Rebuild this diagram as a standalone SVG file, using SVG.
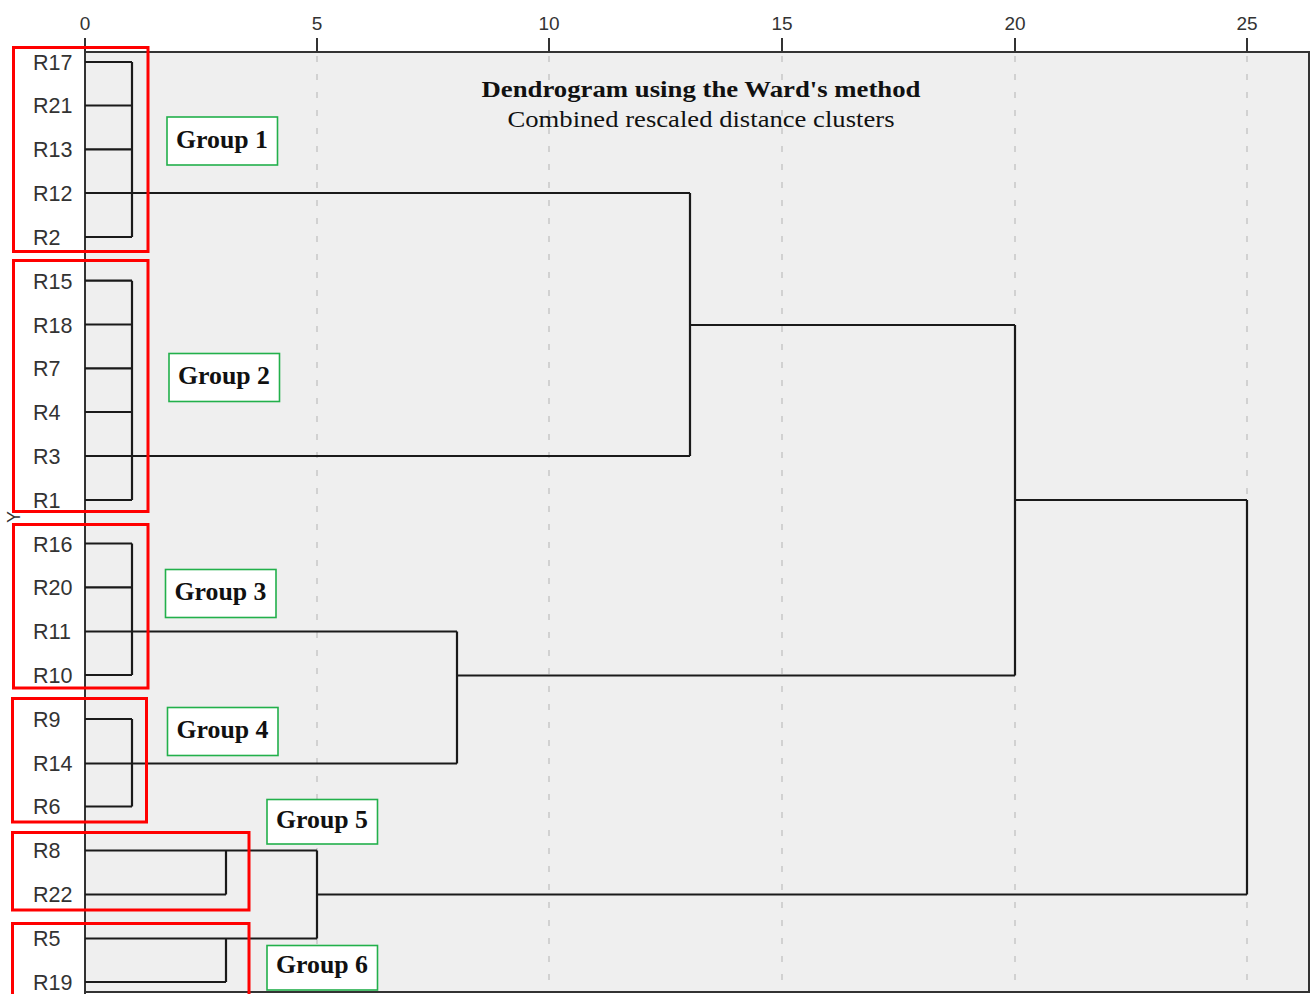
<svg xmlns="http://www.w3.org/2000/svg" width="1311" height="994" viewBox="0 0 1311 994">
<style>
.leaf{font-family:"Liberation Sans",Arial,sans-serif;font-size:21.5px;fill:#333}
.tick{font-family:"Liberation Sans",Arial,sans-serif;font-size:19px;fill:#333;text-anchor:middle}
.grp rect.gb{fill:#fff;stroke:#22b04b;stroke-width:1.6}
.grp text{font-family:"Liberation Serif","Times New Roman",serif;font-weight:bold;font-size:25px;fill:#111;text-anchor:middle}
.rb{fill:none;stroke:#ff0000;stroke-width:3}
.ln{fill:none;stroke:#1a1a1a;stroke-width:2.2}
.grid{stroke:#c8c8c8;stroke-width:1.5;stroke-dasharray:6 12}
</style>
<rect x="0" y="0" width="1311" height="994" fill="#fff"/>
<rect x="85" y="52" width="1224" height="940" fill="#efefef"/>
<g id="grid">
<line class="grid" x1="317" y1="56" x2="317" y2="992"/>
<line class="grid" x1="549" y1="56" x2="549" y2="992"/>
<line class="grid" x1="782" y1="56" x2="782" y2="992"/>
<line class="grid" x1="1015" y1="56" x2="1015" y2="992"/>
<line class="grid" x1="1247" y1="56" x2="1247" y2="992"/>
</g>
<g id="axis" stroke="#333" stroke-width="2" fill="none">
<path d="M85 52 H1309 V992 H85"/>
<path d="M85 38 V994"/>
<path d="M317 38 V52 M549 38 V52 M782 38 V52 M1015 38 V52 M1247 38 V52"/>
</g>
<g id="ticks">
<text class="tick" x="85" y="30">0</text>
<text class="tick" x="317" y="30">5</text>
<text class="tick" x="549" y="30">10</text>
<text class="tick" x="782" y="30">15</text>
<text class="tick" x="1015" y="30">20</text>
<text class="tick" x="1247" y="30">25</text>
</g>
<g id="title" font-family="'Liberation Serif','Times New Roman',serif" text-anchor="middle" fill="#111">
<text x="701" y="97" font-size="24" font-weight="bold" textLength="439" lengthAdjust="spacingAndGlyphs">Dendrogram using the Ward's method</text>
<text x="701" y="127" font-size="23" textLength="387" lengthAdjust="spacingAndGlyphs">Combined rescaled distance clusters</text>
</g>
<text x="14" y="517" font-family="'Liberation Sans',Arial,sans-serif" font-size="18" fill="#333" text-anchor="middle" transform="rotate(-90 14 517)" dy="6">Y</text>
<g id="leaves">
<text class="leaf" x="33" y="70">R17</text>
<text class="leaf" x="33" y="113">R21</text>
<text class="leaf" x="33" y="157">R13</text>
<text class="leaf" x="33" y="201">R12</text>
<text class="leaf" x="33" y="245">R2</text>
<text class="leaf" x="33" y="289">R15</text>
<text class="leaf" x="33" y="333">R18</text>
<text class="leaf" x="33" y="376">R7</text>
<text class="leaf" x="33" y="420">R4</text>
<text class="leaf" x="33" y="464">R3</text>
<text class="leaf" x="33" y="508">R1</text>
<text class="leaf" x="33" y="552">R16</text>
<text class="leaf" x="33" y="595">R20</text>
<text class="leaf" x="33" y="639">R11</text>
<text class="leaf" x="33" y="683">R10</text>
<text class="leaf" x="33" y="727">R9</text>
<text class="leaf" x="33" y="771">R14</text>
<text class="leaf" x="33" y="814">R6</text>
<text class="leaf" x="33" y="858">R8</text>
<text class="leaf" x="33" y="902">R22</text>
<text class="leaf" x="33" y="946">R5</text>
<text class="leaf" x="33" y="990">R19</text>
</g>
<g id="connectors">
<path class="ln" d="M85 62 H132 M85 105.5 H132 M85 149.3 H132 M85 193 H132 M85 237 H132 M132 62 V237"/>
<path class="ln" d="M85 280.7 H132 M85 324.5 H132 M85 368.3 H132 M85 412 H132 M85 456 H132 M85 500 H132 M132 280.7 V500"/>
<path class="ln" d="M85 543.5 H132 M85 587.3 H132 M85 631.5 H132 M85 675 H132 M132 543.5 V675"/>
<path class="ln" d="M85 719 H132 M85 763.5 H132 M85 806.5 H132 M132 719 V806.5"/>
<path class="ln" d="M132 193 H690 M132 456 H690 M690 193 V456 M690 325 H1015"/>
<path class="ln" d="M132 631.5 H457 M132 763.5 H457 M457 631.5 V763.5 M457 675.5 H1015"/>
<path class="ln" d="M1015 325 V675.5 M1015 500 H1247"/>
<path class="ln" d="M85 850.5 H317 M85 894.5 H226 M226 850.5 V894.5"/>
<path class="ln" d="M85 938.5 H317 M85 982 H226 M226 938.5 V982"/>
<path class="ln" d="M317 850.5 V938.5 M317 894.5 H1247 M1247 500 V894.5"/>
</g>
<g id="group1" class="grp"><rect class="rb" x="13.5" y="47.5" width="134.5" height="204"/><rect class="gb" x="167" y="117" width="110.5" height="48"/><text x="222" y="148" textLength="92" lengthAdjust="spacingAndGlyphs">Group 1</text></g>
<g id="group2" class="grp"><rect class="rb" x="13.5" y="260.5" width="134.5" height="251"/><rect class="gb" x="169" y="353.5" width="110.5" height="48"/><text x="224" y="384" textLength="92" lengthAdjust="spacingAndGlyphs">Group 2</text></g>
<g id="group3" class="grp"><rect class="rb" x="13.5" y="524.5" width="134.5" height="163.5"/><rect class="gb" x="165.5" y="569.5" width="110.5" height="48"/><text x="220.5" y="600" textLength="92" lengthAdjust="spacingAndGlyphs">Group 3</text></g>
<g id="group4" class="grp"><rect class="rb" x="12.5" y="698.5" width="134" height="123.5"/><rect class="gb" x="167.5" y="707.5" width="110.5" height="48"/><text x="222.5" y="738" textLength="92" lengthAdjust="spacingAndGlyphs">Group 4</text></g>
<g id="group5" class="grp"><rect class="rb" x="12.5" y="832.5" width="236.5" height="77.5"/><rect class="gb" x="267" y="799.5" width="110.5" height="44.5"/><text x="322" y="828" textLength="92" lengthAdjust="spacingAndGlyphs">Group 5</text></g>
<g id="group6" class="grp"><rect class="rb" x="12.5" y="923.5" width="236.5" height="74"/><rect class="gb" x="267" y="945.5" width="110.5" height="44.5"/><text x="322" y="973" textLength="92" lengthAdjust="spacingAndGlyphs">Group 6</text></g>
</svg>
